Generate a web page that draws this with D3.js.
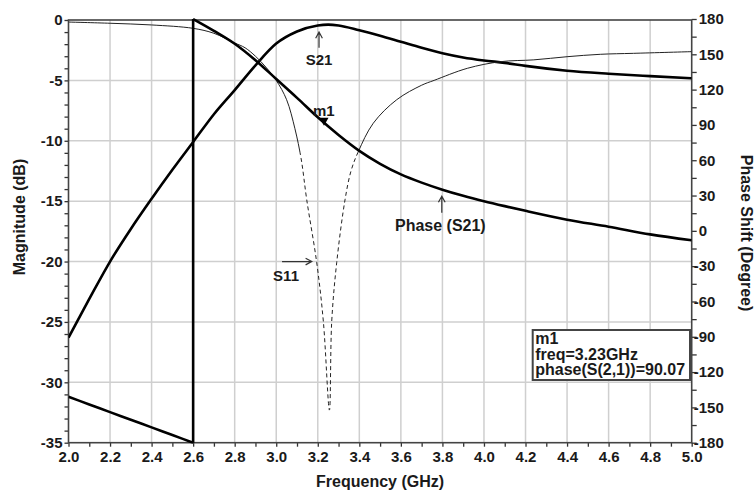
<!DOCTYPE html>
<html>
<head>
<meta charset="utf-8">
<script src="https://cdn.jsdelivr.net/npm/d3@7"></script>
<style>
body { margin: 0; background: #fff; }
svg text { font-family: "Liberation Sans", Arial, sans-serif; font-weight: bold; fill: #1a1a1a; }
</style>
</head>
<body>
<svg class="chart" width="755" height="493"></svg>
<script>
// S21 magnitude (dB)
const s21Freq = [2.0, 2.1, 2.2, 2.3, 2.4, 2.5, 2.6, 2.7, 2.8, 2.9, 3.0, 3.1, 3.2, 3.25, 3.3, 3.4, 3.5, 3.6, 3.7, 3.8, 3.9, 4.0, 4.1, 4.2, 4.4, 4.6, 4.8, 5.0]
const s21Mag  = [-26.3, -23.1, -20.0, -17.3, -14.8, -12.4, -10.1, -7.8, -5.8, -3.75, -1.95, -0.95, -0.45, -0.38, -0.45, -0.85, -1.3, -1.8, -2.3, -2.75, -3.1, -3.35, -3.55, -3.8, -4.2, -4.45, -4.65, -4.83]

// S11 magnitude (dB)
const s11Freq = [2.0, 2.2, 2.4, 2.6, 2.7, 2.8, 2.85, 2.9, 2.95, 3.0, 3.05, 3.09, 3.12, 3.147, 3.195, 3.227, 3.256, 3.267, 3.291, 3.331, 3.36, 3.395, 3.467, 3.58, 3.7, 3.76, 3.92, 4.08, 4.24, 4.4, 4.56, 4.72, 5.0]
const s11Mag  = [-0.17, -0.27, -0.41, -0.69, -1.1, -1.9, -2.3, -3.0, -3.9, -5.0, -6.6, -9.0, -11.5, -14.9, -20.1, -25.0, -32.3, -25.0, -20.1, -14.9, -12.5, -10.9, -8.55, -6.6, -5.4, -5.0, -4.0, -3.45, -3.3, -3.04, -2.84, -2.76, -2.62]

// phase(S21) in degrees, wraps at 2.6 GHz
const phaseFreq = [2.0, 2.1, 2.2, 2.3, 2.4, 2.5, 2.6, 2.6, 2.7, 2.8, 2.9, 3.0, 3.1, 3.2, 3.3, 3.4, 3.5, 3.6, 3.7, 3.8, 3.9, 4.0, 4.1, 4.2, 4.4, 4.6, 4.8, 5.0]
const phaseDeg  = [-141, -147.5, -154, -160.5, -167, -173.5, -180, 180, 170, 159, 145, 129, 113, 96.5, 81.5, 68, 57, 48, 41, 35, 29.8, 25.2, 21, 17, 9.5, 3.5, -3, -8]

// marker m1
const markerName = "m1"
const markerFreq = 3.23
const markerPhase = 90.07

// axis ticks
const xTicks = d3.range(20, 51).map(d => d / 10)
const yTicks = d3.range(-35, 1, 1)
const y2Ticks = d3.range(-180, 181, 15)

const svg = d3.select("svg.chart")

const x = d3.scaleLinear().domain([2, 5]).range([68.5, 691.7])
const y = d3.scaleLinear().domain([-35, 0]).range([442.7, 20])
const y2 = d3.scaleLinear().domain([-180, 180]).range([442.7, 19])

// grid
const grid = svg.append("g").attr("stroke", "#cfcfcf").attr("stroke-width", 1.5)
grid.selectAll("line.v")
    .data(xTicks.filter(d => Math.round(d * 10) % 2 === 0 && d > 2 && d < 5))
    .enter().append("line")
    .attr("class", "v")
    .attr("x1", d => x(d)).attr("x2", d => x(d))
    .attr("y1", y(0)).attr("y2", y(-35))
grid.selectAll("line.h")
    .data(yTicks.filter(d => d % 5 === 0 && d > -35 && d < 0))
    .enter().append("line")
    .attr("class", "h")
    .attr("x1", x(2)).attr("x2", x(5))
    .attr("y1", d => y(d)).attr("y2", d => y(d))

// clip regions
const defs = svg.append("defs")
defs.append("clipPath").attr("id", "plot").append("rect")
    .attr("x", x(2)).attr("y", y(0) - 3).attr("width", x(5) - x(2)).attr("height", y(-35) - y(0) + 4)
defs.append("clipPath").attr("id", "upper").append("rect")
    .attr("x", x(2)).attr("y", y(0) - 3).attr("width", x(5) - x(2)).attr("height", y(-11) - y(0) + 3)
defs.append("clipPath").attr("id", "lower").append("rect")
    .attr("x", x(2)).attr("y", y(-11)).attr("width", x(5) - x(2)).attr("height", y(-35) - y(-11))

// axes
const fmtX = d => Math.round(d * 10) % 2 === 0 ? d.toFixed(1) : ""
const xAxis = svg.append("g")
    .attr("transform", `translate(0,${y(-35)})`)
    .call(d3.axisBottom(x).tickValues(xTicks).tickFormat(fmtX).tickSize(4).tickPadding(5))

const yAxis = svg.append("g")
    .attr("transform", `translate(${x(2)},0)`)
    .call(d3.axisLeft(y).tickValues(yTicks).tickFormat(d => d % 5 === 0 ? String(d) : "").tickSize(4).tickPadding(2))

const y2Axis = svg.append("g")
    .attr("transform", `translate(${x(5)},0)`)
    .call(d3.axisRight(y2).tickValues(y2Ticks).tickFormat(d => d % 30 === 0 ? String(d) : "").tickSize(5).tickPadding(2))
y2Axis.selectAll("text").attr("x", d => d < 0 ? 2 : 7)

for (const g of [xAxis, yAxis, y2Axis]) {
    g.select(".domain").remove()
    g.selectAll(".tick line").attr("stroke", "#333").attr("stroke-width", 1.3)
    g.selectAll("text").style("font-size", "15px").attr("fill", "#1a1a1a")
}

// frame
svg.append("rect")
    .attr("x", x(2)).attr("y", y(0))
    .attr("width", x(5) - x(2)).attr("height", y(-35) - y(0))
    .attr("fill", "none").attr("stroke", "#444").attr("stroke-width", 1.6)

// curves
const plot = svg.append("g").attr("clip-path", "url(#plot)")

const s21Line = d3.line().x((d, i) => x(s21Freq[i])).y(d => y(d)).curve(d3.curveMonotoneX)
plot.append("path").datum(s21Mag)
    .attr("d", s21Line)
    .attr("fill", "none").attr("stroke", "#000").attr("stroke-width", 2.6)

const s11Line = d3.line().x((d, i) => x(s11Freq[i])).y(d => y(d)).curve(d3.curveCatmullRom.alpha(0.5))
plot.append("path").datum(s11Mag)
    .attr("clip-path", "url(#upper)")
    .attr("d", s11Line)
    .attr("fill", "none").attr("stroke", "#222").attr("stroke-width", 1)
plot.append("path").datum(s11Mag)
    .attr("clip-path", "url(#lower)")
    .attr("d", s11Line)
    .attr("fill", "none").attr("stroke", "#222").attr("stroke-width", 1)
    .attr("stroke-dasharray", "4,3")

// phase: split at the wrap, draw smooth pieces and the vertical jump
const phasePts = phaseFreq.map((f, i) => [f, phaseDeg[i]])
const pieces = [[phasePts[0]]]
for (let i = 1; i < phasePts.length; i++) {
    if (Math.abs(phasePts[i][1] - phasePts[i - 1][1]) > 180) {
        plot.append("line")
            .attr("x1", x(phasePts[i - 1][0])).attr("x2", x(phasePts[i][0]))
            .attr("y1", y2(phasePts[i - 1][1])).attr("y2", y2(phasePts[i][1]))
            .attr("stroke", "#000").attr("stroke-width", 2.6)
        pieces.push([])
    }
    pieces[pieces.length - 1].push(phasePts[i])
}
const phaseLine = d3.line().x(d => x(d[0])).y(d => y2(d[1])).curve(d3.curveMonotoneX)
plot.selectAll("path.phase").data(pieces).enter().append("path")
    .attr("class", "phase")
    .attr("d", phaseLine)
    .attr("fill", "none").attr("stroke", "#000").attr("stroke-width", 2.6)

// marker m1
const mx = x(markerFreq), my = y2(markerPhase)
svg.append("path")
    .attr("d", `M${mx - 4.5},${my - 7}L${mx + 4.5},${my - 7}L${mx},${my + 1}Z`)
    .attr("fill", "#000")
svg.append("text")
    .attr("x", mx - 11).attr("y", my - 9)
    .style("font-size", "15px")
    .text(markerName)

// annotations with arrows
function arrow(x1, y1, x2, y2p) {
    const a = Math.atan2(y2p - y1, x2 - x1)
    const h = 7, w = 0.5
    svg.append("path")
        .attr("d", `M${x1},${y1}L${x2},${y2p}` +
            `M${x2 - h * Math.cos(a - w)},${y2p - h * Math.sin(a - w)}L${x2},${y2p}` +
            `L${x2 - h * Math.cos(a + w)},${y2p - h * Math.sin(a + w)}`)
        .attr("fill", "none").attr("stroke", "#333").attr("stroke-width", 1.2)
}

// S21
arrow(x(3.206), y(-2.3), x(3.206), y(-1.0))
svg.append("text").attr("x", x(3.206)).attr("y", y(-3.7))
    .attr("text-anchor", "middle").style("font-size", "15px").text("S21")

// S11
arrow(x(3.028), y(-20), x(3.171), y(-20))
svg.append("text").attr("x", x(2.985)).attr("y", y(-21.6))
    .style("font-size", "15px").text("S11")

// Phase (S21)
arrow(x(3.797), y2(15.4), x(3.797), y2(29.5))
svg.append("text").attr("x", x(3.79)).attr("y", y2(-0.3))
    .attr("text-anchor", "middle").style("font-size", "16px").text("Phase (S21)")

// marker readout box
const box = svg.append("g").attr("transform", "translate(532.7,330)")
box.append("rect").attr("width", 157.3).attr("height", 50)
    .attr("fill", "#fff").attr("stroke", "#444").attr("stroke-width", 2)
const boxLines = [markerName, "freq=" + markerFreq.toFixed(2) + "GHz", "phase(S(2,1))=" + markerPhase.toFixed(2)]
box.selectAll("text").data(boxLines).enter().append("text")
    .attr("x", 2.5).attr("y", (d, i) => 14 + i * 15.5)
    .style("font-size", "16px")
    .text(d => d)

// axis titles
svg.append("text").attr("x", x(3.5)).attr("y", 487)
    .attr("text-anchor", "middle").style("font-size", "16px").text("Frequency (GHz)")
svg.append("text").attr("transform", "translate(25,217) rotate(-90)")
    .attr("text-anchor", "middle").style("font-size", "16px").text("Magnitude (dB)")
svg.append("text").attr("transform", "translate(741,233) rotate(90)")
    .attr("text-anchor", "middle").style("font-size", "16px").text("Phase Shift (Degree)")
</script>
</body>
</html>
